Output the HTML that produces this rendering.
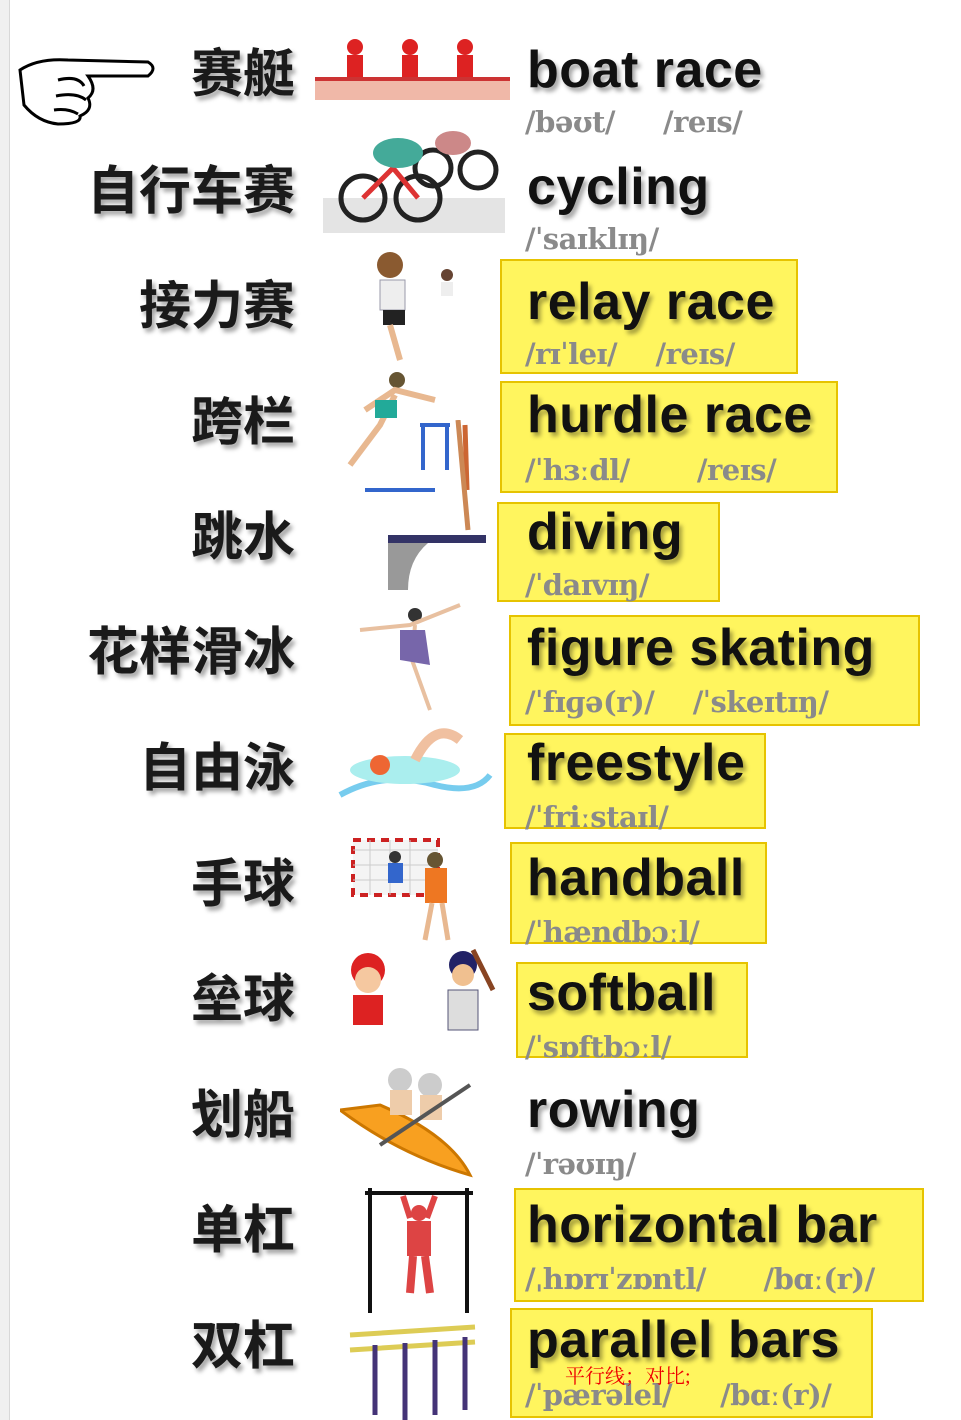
<!DOCTYPE html>
<html><head><meta charset="utf-8"><style>
html,body{margin:0;padding:0;width:961px;height:1420px;overflow:hidden;background:#fff;position:relative}
.edge{position:absolute;left:0;top:0;width:9px;height:1420px;background:#f0f0f0;border-right:1px solid #d8d8d8}
.zh{position:absolute;right:666px;font:bold 52px "Noto Sans CJK SC","WenQuanYi Zen Hei",sans-serif;color:#1a1a1a;text-shadow:3px 4px 4px rgba(0,0,0,.35);line-height:60px;white-space:nowrap}
.en{position:absolute;left:527px;font:bold 52px "Liberation Sans",sans-serif;letter-spacing:0.5px;color:#111;text-shadow:3px 4px 4px rgba(0,0,0,.35);line-height:56px;white-space:nowrap}
.ph{position:absolute;left:525px;font:bold 29px "DejaVu Serif","Liberation Serif",serif;color:#8a8a8a;line-height:34px;white-space:pre;letter-spacing:-0.5px}
.box{position:absolute;background:#fff55e;border:2px solid #e6c300;box-sizing:border-box}
.box+.box{}
.pic{position:absolute}
</style></head><body>
<div class="edge"></div>

<svg class="pic" style="left:18px;top:50px" width="140" height="78" viewBox="0 0 140 78"><path d="M2,20 Q20,8 50,10 L130,12 Q140,18 130,26 L70,26 Q80,40 70,48 Q76,60 62,66 Q64,74 40,74 Q20,72 6,55 Z" fill="#fff" stroke="#000" stroke-width="3"/><path d="M40,30 Q60,25 66,36 M38,46 Q58,42 68,50 M36,60 Q50,58 60,64" fill="none" stroke="#000" stroke-width="3"/></svg>

<div class="box" style="left:500px;top:259px;width:298px;height:115px"></div>
<div class="box" style="left:500px;top:381px;width:338px;height:112px"></div>
<div class="box" style="left:497px;top:502px;width:223px;height:100px"></div>
<div class="box" style="left:509px;top:615px;width:411px;height:111px"></div>
<div class="box" style="left:504px;top:733px;width:262px;height:96px"></div>
<div class="box" style="left:510px;top:842px;width:257px;height:102px"></div>
<div class="box" style="left:516px;top:962px;width:232px;height:96px"></div>
<div class="box" style="left:514px;top:1188px;width:410px;height:114px"></div>
<div class="box" style="left:510px;top:1308px;width:363px;height:110px"></div>

<div class="zh" style="top:40px">赛艇</div>
<div class="zh" style="top:157px">自行车赛</div>
<div class="zh" style="top:272px">接力赛</div>
<div class="zh" style="top:388px">跨栏</div>
<div class="zh" style="top:503px">跳水</div>
<div class="zh" style="top:618px">花样滑冰</div>
<div class="zh" style="top:734px">自由泳</div>
<div class="zh" style="top:850px">手球</div>
<div class="zh" style="top:965px">垒球</div>
<div class="zh" style="top:1081px">划船</div>
<div class="zh" style="top:1196px">单杠</div>
<div class="zh" style="top:1312px">双杠</div>

<svg class="pic" style="left:315px;top:35px" width="195" height="70"><rect x="0" y="45" width="195" height="20" fill="#f0b8a8"/><rect x="0" y="42" width="195" height="4" fill="#c33"/><g fill="#d22"><circle cx="40" cy="12" r="8"/><rect x="32" y="20" width="16" height="22"/><circle cx="95" cy="12" r="8"/><rect x="87" y="20" width="16" height="22"/><circle cx="150" cy="12" r="8"/><rect x="142" y="20" width="16" height="22"/></g></svg>
<svg class="pic" style="left:323px;top:118px" width="182" height="115"><rect x="0" y="80" width="182" height="35" fill="#e4e4e4"/><circle cx="40" cy="80" r="22" fill="none" stroke="#222" stroke-width="5"/><circle cx="95" cy="80" r="22" fill="none" stroke="#222" stroke-width="5"/><circle cx="110" cy="50" r="18" fill="none" stroke="#222" stroke-width="5"/><circle cx="155" cy="52" r="18" fill="none" stroke="#222" stroke-width="5"/><path d="M40,80 L70,50 L95,80" stroke="#d33" stroke-width="5" fill="none"/><ellipse cx="75" cy="35" rx="25" ry="15" fill="#4a9"/><ellipse cx="130" cy="25" rx="18" ry="12" fill="#c88"/></svg>
<svg class="pic" style="left:365px;top:250px" width="100" height="115"><circle cx="25" cy="15" r="13" fill="#8a5a30"/><rect x="15" y="30" width="25" height="30" fill="#eee" stroke="#99a"/><rect x="18" y="60" width="22" height="15" fill="#222"/><path d="M25,75 L35,110" stroke="#e8b890" stroke-width="6"/><circle cx="82" cy="25" r="6" fill="#643"/><rect x="76" y="32" width="12" height="14" fill="#eee"/></svg>
<svg class="pic" style="left:335px;top:370px" width="145" height="125"><circle cx="62" cy="10" r="8" fill="#653"/><path d="M30,40 L60,20 L100,30 M60,25 L45,55 L15,95" stroke="#e8b890" stroke-width="6" fill="none"/><rect x="40" y="30" width="22" height="18" fill="#2a9"/><path d="M85,55 L115,55 M88,55 L88,100 M112,55 L112,100 M30,120 L100,120" stroke="#36c" stroke-width="4"/><path d="M130,55 L132,120" stroke="#c63" stroke-width="5"/></svg>
<svg class="pic" style="left:388px;top:420px" width="100" height="170"><path d="M70,0 L80,110" stroke="#c85" stroke-width="5"/><rect x="0" y="115" width="98" height="8" fill="#336"/><path d="M0,123 L40,123 Q20,140 20,170 L0,170 Z" fill="#999"/></svg>
<svg class="pic" style="left:350px;top:585px" width="130" height="140"><circle cx="65" cy="30" r="7" fill="#333"/><path d="M10,45 L60,40 L110,20 M65,40 L62,75 L80,125" stroke="#e8c0a0" stroke-width="4" fill="none"/><path d="M50,45 L75,45 L80,80 L50,75 Z" fill="#76a"/></svg>
<svg class="pic" style="left:335px;top:720px" width="160" height="90"><path d="M5,75 Q50,50 100,65 Q140,75 155,55" stroke="#7ce" stroke-width="6" fill="none"/><ellipse cx="70" cy="50" rx="55" ry="14" fill="#aee"/><circle cx="45" cy="45" r="10" fill="#e63"/><path d="M80,40 Q100,0 125,20" stroke="#f0c0a0" stroke-width="10" fill="none"/></svg>
<svg class="pic" style="left:350px;top:835px" width="120" height="115"><rect x="3" y="5" width="85" height="55" fill="#f4f4f4" stroke="#c22" stroke-width="4" stroke-dasharray="8 6"/><path d="M3,15 L88,15 M3,30 L88,30 M3,45 L88,45 M20,5 L20,60 M40,5 L40,60 M60,5 L60,60" stroke="#ccc"/><circle cx="45" cy="22" r="6" fill="#333"/><rect x="38" y="28" width="15" height="20" fill="#36c"/><circle cx="85" cy="25" r="8" fill="#653"/><rect x="75" y="33" width="22" height="35" fill="#e72"/><path d="M82,68 L75,105 M92,68 L98,105" stroke="#e8b890" stroke-width="5"/></svg>
<svg class="pic" style="left:333px;top:945px" width="165" height="100"><circle cx="35" cy="25" r="17" fill="#d22"/><circle cx="35" cy="35" r="13" fill="#f5c8a0"/><rect x="20" y="50" width="30" height="30" fill="#d22"/><circle cx="130" cy="20" r="14" fill="#226"/><circle cx="130" cy="30" r="11" fill="#f0c090"/><rect x="115" y="45" width="30" height="40" fill="#ddd" stroke="#557"/><path d="M140,5 L160,45" stroke="#842" stroke-width="5"/></svg>
<svg class="pic" style="left:340px;top:1065px" width="135" height="120"><path d="M0,45 Q60,90 130,110 Q110,70 40,40 Z" fill="#f8a020" stroke="#c70" stroke-width="3"/><circle cx="60" cy="15" r="12" fill="#ccc"/><circle cx="90" cy="20" r="12" fill="#ccc"/><rect x="50" y="25" width="22" height="25" fill="#eca"/><rect x="80" y="30" width="22" height="25" fill="#eca"/><path d="M40,80 L130,20" stroke="#555" stroke-width="4"/></svg>
<svg class="pic" style="left:365px;top:1188px" width="110" height="125"><path d="M5,0 L5,125 M102,0 L102,125 M0,5 L108,5" stroke="#111" stroke-width="4"/><path d="M38,8 L45,30 M70,8 L62,30" stroke="#d44" stroke-width="6"/><circle cx="54" cy="25" r="8" fill="#d44"/><rect x="42" y="33" width="24" height="35" fill="#d44"/><path d="M48,68 L45,105 M60,68 L65,105" stroke="#d44" stroke-width="8"/></svg>
<svg class="pic" style="left:345px;top:1315px" width="135" height="105"><path d="M5,20 L130,12 M5,35 L130,27" stroke="#dc5" stroke-width="5"/><path d="M30,30 L30,100 M60,28 L60,105 M90,25 L90,100 M120,22 L120,95" stroke="#437" stroke-width="5"/></svg>

<div class="en" style="top:42px">boat race</div>
<div class="ph" style="top:105px">/bəʊt/     /reɪs/</div>
<div class="en" style="top:159px">cycling</div>
<div class="ph" style="top:222px">/ˈsaɪklɪŋ/</div>
<div class="en" style="top:274px">relay race</div>
<div class="ph" style="top:337px">/rɪˈleɪ/    /reɪs/</div>
<div class="en" style="top:387px">hurdle race</div>
<div class="ph" style="top:453px">/ˈhɜːdl/       /reɪs/</div>
<div class="en" style="top:504px">diving</div>
<div class="ph" style="top:568px">/ˈdaɪvɪŋ/</div>
<div class="en" style="top:620px">figure skating</div>
<div class="ph" style="top:685px">/ˈfɪɡə(r)/    /ˈskeɪtɪŋ/</div>
<div class="en" style="top:735px">freestyle</div>
<div class="ph" style="top:800px">/ˈfriːstaɪl/</div>
<div class="en" style="top:850px">handball</div>
<div class="ph" style="top:915px">/ˈhændbɔːl/</div>
<div class="en" style="top:965px">softball</div>
<div class="ph" style="top:1030px">/ˈsɒftbɔːl/</div>
<div class="en" style="top:1082px">rowing</div>
<div class="ph" style="top:1147px">/ˈrəʊɪŋ/</div>
<div class="en" style="top:1197px">horizontal bar</div>
<div class="ph" style="top:1262px">/ˌhɒrɪˈzɒntl/      /bɑː(r)/</div>
<div class="en" style="top:1312px">parallel bars</div>
<div class="ph" style="top:1378px">/ˈpærəlel/     /bɑː(r)/</div>
<div style="position:absolute;left:565px;top:1360px;font:20px 'Liberation Serif','Noto Serif CJK SC',serif;color:#e00">平行线；对比;</div>
</body></html>
